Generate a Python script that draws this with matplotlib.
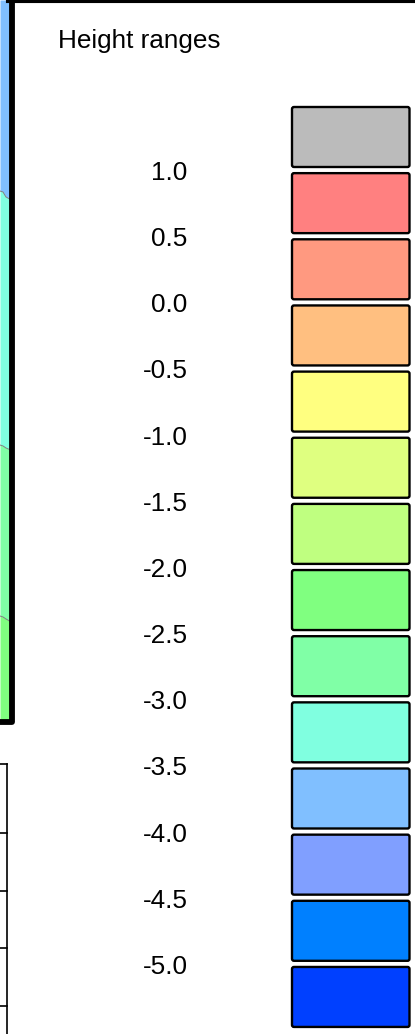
import matplotlib
matplotlib.use("Agg")
import matplotlib.pyplot as plt
from matplotlib.patches import FancyBboxPatch

plt.rcParams['font.family'] = ['Liberation Sans', 'DejaVu Sans']

title = "Height ranges"
labels = ["1.0", "0.5", "0.0", "-0.5", "-1.0", "-1.5", "-2.0", "-2.5", "-3.0",
          "-3.5", "-4.0", "-4.5", "-5.0"]
swatch_colors = ["#BBBBBB", "#FF8080", "#FF9980", "#FFBF80", "#FFFF80", "#DFFF80",
                 "#BFFF80", "#80FF80", "#80FFA6", "#80FFE0", "#80BFFF", "#809FFF",
                 "#0080FF", "#0040FF"]

# visible map fragment at the left edge: band colours and boundaries
map_colors = ["#80BFFF", "#80FFE0", "#80FFA6", "#80FF80"]
map_x = [0, 3, 6, 9.5]
map_bounds = [
    [0, 0, 0, 0],
    [191, 192, 197, 199],
    [445, 446, 448, 449.5],
    [616, 617, 619, 621],
    [720, 720, 720, 720],
]
table_rows = [764, 833, 891, 948, 1006, 1034]

W, H = 415, 1034
fig = plt.figure(figsize=(W / 100, H / 100), dpi=100, facecolor="white")
ax = fig.add_axes([0, 0, 1, 1])
ax.set_xlim(0, W)
ax.set_ylim(H, 0)
ax.axis("off")

# map fragment
for i, c in enumerate(map_colors):
    ax.fill_between(map_x, map_bounds[i], map_bounds[i + 1], color=c, lw=0, zorder=1)
for b in map_bounds[1:4]:
    ax.plot(map_x, b, color="#808080", lw=0.7, zorder=2)
ax.plot([12, 12, 0], [0, 721.5, 721.5], color="black", lw=4.2, solid_joinstyle="round", zorder=3)
ax.plot([9, W], [0, 0], color="black", lw=4.4, zorder=3)

# table fragment
ax.plot([6.5, 6.5], [table_rows[0], table_rows[-1]], color="black", lw=1.2, zorder=3)
for y in table_rows[:-1]:
    ax.plot([0, 6.5], [y, y], color="black", lw=1.2, zorder=3)

# legend
ax.text(58, 41, title, fontsize=18.8, ha="left", va="center", color="black")
top, pitch, height = 107, 66.15, 60
for i, c in enumerate(swatch_colors):
    y = top + pitch * i
    ax.add_patch(FancyBboxPatch((292, y), 117.5, height,
                                boxstyle="round,pad=0,rounding_size=2",
                                fc=c, ec="black", lw=1.7, mutation_aspect=1, zorder=2))
for i, t in enumerate(labels):
    ax.text(187.5, 173 + pitch * i, t, fontsize=18.8, ha="right", va="center", color="black")

fig.savefig("out.png", dpi=100, facecolor="white")
